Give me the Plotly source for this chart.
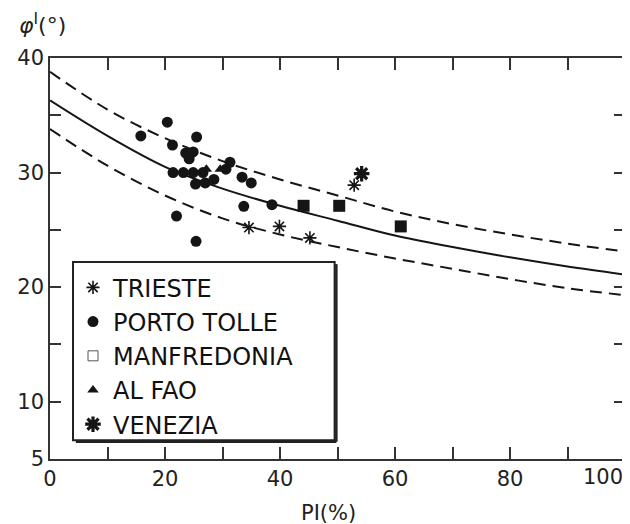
import plotly.graph_objects as go

# ---- data ----
curve_pi = [0, 10, 20, 30, 40, 50, 60, 70, 80, 90, 100]
fit_mean = [36.3, 33.2, 30.5, 28.6, 27.1, 25.8, 24.5, 23.5, 22.6, 21.8, 21.1]
fit_upper = [38.8, 35.5, 33.0, 31.0, 29.4, 28.0, 26.6, 25.5, 24.6, 23.8, 23.1]
fit_lower = [33.8, 30.6, 28.0, 26.0, 24.6, 23.5, 22.5, 21.6, 20.7, 19.9, 19.3]

trieste_pi = [34.6, 39.9, 45.2, 52.9]
trieste_phi = [25.2, 25.3, 24.3, 28.9]

porto_pi = [15.8, 20.4, 21.3, 25.5, 23.6, 24.9, 24.2, 21.4, 23.2, 24.9, 26.6,
            30.6, 31.3, 25.3, 27.0, 28.5, 33.4, 35.0, 33.7, 38.6, 22.0, 25.4]
porto_phi = [33.2, 34.4, 32.4, 33.1, 31.7, 31.8, 31.2, 30.0, 30.0, 30.0, 30.0,
             30.3, 30.9, 29.0, 29.1, 29.4, 29.6, 29.1, 27.05, 27.2, 26.2, 24.0]

manf_pi = [44.1, 50.3, 61.0]
manf_phi = [27.1, 27.1, 25.3]

alfao_pi = [27.2, 29.6]
alfao_phi = [30.3, 30.3]

venezia_pi = [54.2]
venezia_phi = [29.9]

x_ticks = [0, 10, 20, 30, 40, 50, 60, 70, 80, 90, 100]
x_labels = ["0", "", "20", "", "40", "", "60", "", "80", "", ""]
y_ticks = [5, 10, 15, 20, 25, 30, 35, 40]
y_labels = ["5", "10", "", "20", "", "30", "", "40"]

FONT = "DejaVu Sans, Liberation Sans, sans-serif"
INK = "#151515"

fig = go.Figure()

# fitted curves
fig.add_trace(go.Scatter(x=curve_pi, y=fit_upper, mode="lines", line_shape="spline",
                         line=dict(color=INK, width=2, dash="12px,7px"), showlegend=False))
fig.add_trace(go.Scatter(x=curve_pi, y=fit_mean, mode="lines", line_shape="spline",
                         line=dict(color=INK, width=2), showlegend=False))
fig.add_trace(go.Scatter(x=curve_pi, y=fit_lower, mode="lines", line_shape="spline",
                         line=dict(color=INK, width=2, dash="12px,7px"), showlegend=False))

# data sets
fig.add_trace(go.Scatter(x=trieste_pi, y=trieste_phi, mode="markers", name="TRIESTE",
                         marker=dict(symbol="asterisk-open", size=11, color=INK,
                                     line=dict(color=INK, width=1.6))))
fig.add_trace(go.Scatter(x=porto_pi, y=porto_phi, mode="markers", name="PORTO TOLLE",
                         marker=dict(symbol="circle", size=11, color=INK)))
fig.add_trace(go.Scatter(x=manf_pi, y=manf_phi, mode="markers", name="MANFREDONIA",
                         showlegend=False,
                         marker=dict(symbol="square", size=12, color=INK)))
fig.add_trace(go.Scatter(x=[None], y=[None], mode="markers", name="MANFREDONIA",
                         marker=dict(symbol="square-open", size=10, color="#555",
                                     line=dict(color="#555", width=1))))
fig.add_trace(go.Scatter(x=alfao_pi, y=alfao_phi, mode="markers", name="AL FAO",
                         marker=dict(symbol="triangle-up", size=10, color=INK)))
fig.add_trace(go.Scatter(x=venezia_pi, y=venezia_phi, mode="markers", name="VENEZIA",
                         marker=dict(symbol="asterisk-open", size=13, color=INK,
                                     line=dict(color=INK, width=3.2))))

axis_common = dict(showline=True, linecolor="#333", linewidth=1.5, mirror="ticks",
                   ticks="inside", tickcolor="#333", tickwidth=1.5, ticklen=12,
                   showgrid=False, zeroline=False, automargin=False,
                   tickfont=dict(family=FONT, size=21, color="#222"))

fig.update_xaxes(range=[0, 100], tickmode="array", tickvals=x_ticks, ticktext=x_labels,
                 **axis_common)
fig.update_yaxes(range=[5, 40], tickmode="array", tickvals=y_ticks, ticktext=y_labels,
                 **{**axis_common, "ticklen": 11})

# legend box
fig.add_shape(type="rect", xref="paper", yref="paper",
              x0=0.040, x1=0.495, y0=0.047, y1=0.491,
              line=dict(color="#222", width=2), fillcolor="white", layer="below")
fig.add_shape(type="line", xref="paper", yref="paper",
              x0=0.045, x1=0.498, y0=0.043, y1=0.043,
              line=dict(color="#222", width=2.5))
fig.add_shape(type="line", xref="paper", yref="paper",
              x0=0.498, x1=0.498, y0=0.043, y1=0.486,
              line=dict(color="#222", width=2.5))

# "100" tick label kept inside the picture (right-aligned on the last tick)
fig.add_annotation(text="100", xref="paper", yref="paper",
                   x=1.0, y=0, xanchor="right", yanchor="top", yshift=-4, showarrow=False,
                   font=dict(family=FONT, size=21, color="#222"))

fig.add_annotation(text="<i>φ</i><sup>I</sup>(°)", xref="paper", yref="paper",
                   x=-0.058, y=1.085, xanchor="left", yanchor="middle", showarrow=False,
                   font=dict(family=FONT, size=22, color="#222"))
fig.add_annotation(text="PI(%)", xref="paper", yref="paper",
                   x=0.485, y=-0.135, xanchor="center", yanchor="middle", showarrow=False,
                   font=dict(family=FONT, size=21, color="#222"))

# the page body adds an 8px offset; size the figure so the plot lands where the reference has it
fig.update_layout(
    width=622, height=516,
    margin=dict(l=42, r=5, t=50, b=65, autoexpand=False),
    paper_bgcolor="white", plot_bgcolor="white",
    showlegend=True,
    legend=dict(x=0.04, y=0.483, xanchor="left", yanchor="top",
                bgcolor="rgba(0,0,0,0)", borderwidth=0, tracegroupgap=0,
                font=dict(family=FONT, size=24, color="#111")),
)

fig.write_html("out.html")
